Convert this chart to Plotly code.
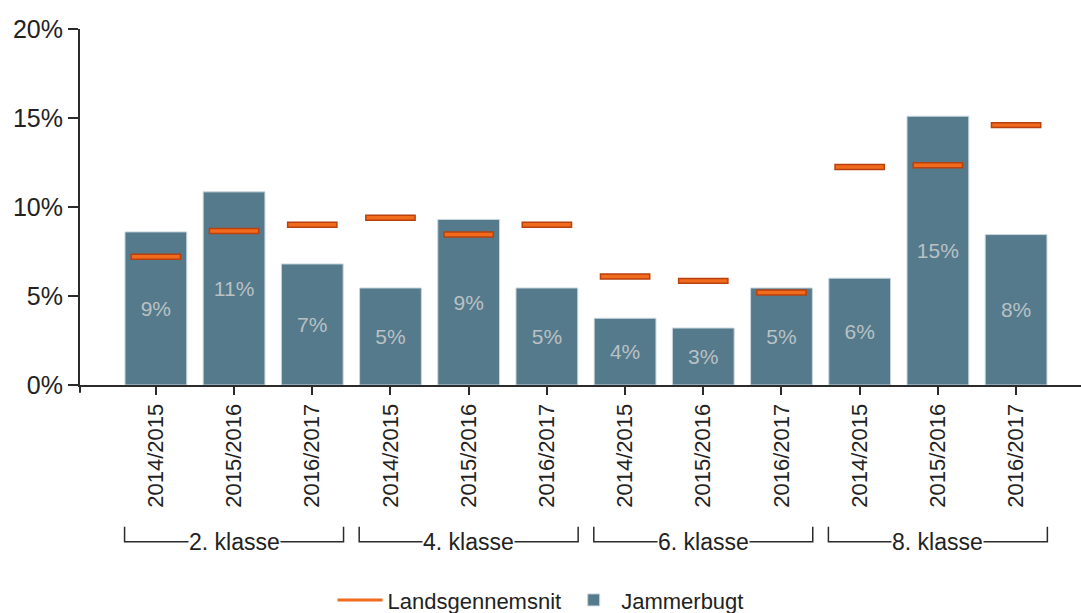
import plotly.graph_objects as go

# ------------------------------------------------------------------ data

years = ["2014/2015", "2015/2016", "2016/2017"] * 4
groups = ["2. klasse", "4. klasse", "6. klasse", "8. klasse"]
jammerbugt = [8.6, 10.85, 6.8, 5.45, 9.3, 5.45, 3.75, 3.2, 5.45, 6.0, 15.1, 8.45]
landsgennemsnit = [7.2, 8.65, 9.0, 9.4, 8.45, 9.0, 6.1, 5.85, 5.2, 12.25, 12.35, 14.6]
y_ticks = [0, 5, 10, 15, 20]
y_tick_labels = ["0%", "5%", "10%", "15%", "20%"]

BAR_COLOR = "#557a8c"
DASH_FILL = "#f26a1b"
DASH_EDGE = "#b8410f"
AXIS_COLOR = "#2b2b2b"
FONT = "Liberation Sans, Arial, sans-serif"

x = list(range(len(years)))
dash_h = 0.28  # thickness of the average marker, in % units

fig = go.Figure()

# legend-only entry so the average shows as a line in the legend
fig.add_trace(go.Scatter(
    x=[None], y=[None], mode="lines", name="Landsgennemsnit",
    line=dict(color=DASH_FILL, width=3),
))

fig.add_trace(go.Bar(
    x=x, y=jammerbugt, name="Jammerbugt", width=0.79,
    marker=dict(color=BAR_COLOR, line=dict(color="#c9d7de", width=1)),
    texttemplate="%{y:.0f}%", textposition="inside", insidetextanchor="middle",
    textangle=0, constraintext="none",
    textfont=dict(color="#b9c1c5", size=21, family=FONT),
    hovertemplate="%{y:.1f}%<extra>Jammerbugt</extra>",
))

fig.add_trace(go.Bar(
    x=x, y=[dash_h] * len(x), base=[v - dash_h / 2 for v in landsgennemsnit],
    width=0.63, showlegend=False, name="Landsgennemsnit",
    marker=dict(color=DASH_FILL, line=dict(color=DASH_EDGE, width=1.5)),
    customdata=landsgennemsnit,
    hovertemplate="%{customdata:.1f}%<extra>Landsgennemsnit</extra>",
))

# group brackets under the year labels
for gi, name in enumerate(groups):
    x0 = gi * 3 - 0.4
    x1 = gi * 3 + 2 + 0.4
    fig.add_shape(type="path", xref="x", yref="paper",
                  path=f"M {x0},-0.398 L {x0},-0.44 L {x1},-0.44 L {x1},-0.398",
                  line=dict(color=AXIS_COLOR, width=1.5))
    fig.add_annotation(x=gi * 3 + 1, y=-0.44, xref="x", yref="paper",
                       text=name, showarrow=False, yanchor="middle",
                       bgcolor="white", borderpad=0,
                       font=dict(size=23, color="#222", family=FONT))

# small stub of the y axis below the baseline
fig.add_shape(type="line", xref="paper", yref="paper", x0=0, x1=0, y0=0, y1=-0.022,
              line=dict(color=AXIS_COLOR, width=2))

fig.update_layout(
    barmode="overlay",
    width=1081, height=613,
    margin=dict(l=80, r=0, t=29, b=228),
    paper_bgcolor="white", plot_bgcolor="white",
    font=dict(family=FONT, color="#222"),
    showlegend=True,
    legend=dict(orientation="h", xref="container", yref="container",
                x=0.5, xanchor="center", y=0.021, yanchor="middle",
                itemwidth=45, font=dict(size=22, color="#222"),
                traceorder="normal"),
)
fig.update_xaxes(
    range=[-0.97, 11.83], tickvals=x, ticktext=years, tickangle=-90,
    showline=True, linecolor=AXIS_COLOR, linewidth=2,
    ticks="outside", ticklen=8, tickwidth=2, tickcolor=AXIS_COLOR,
    showgrid=False, zeroline=False, automargin=False,
    tickfont=dict(size=22, color="#222", family=FONT),
)
fig.update_yaxes(
    range=[0, 20], tickvals=y_ticks, ticktext=y_tick_labels,
    showline=True, linecolor=AXIS_COLOR, linewidth=2,
    ticks="outside", ticklen=10, tickwidth=2, tickcolor=AXIS_COLOR,
    showgrid=False, zeroline=False, automargin=False,
    tickfont=dict(size=25, color="#222", family=FONT),
)

# drop the default 8px body margin so the figure sits at the page corner
fig.write_html("out.html", config={"displayModeBar": False},
               post_script="document.body.style.margin='0';")
